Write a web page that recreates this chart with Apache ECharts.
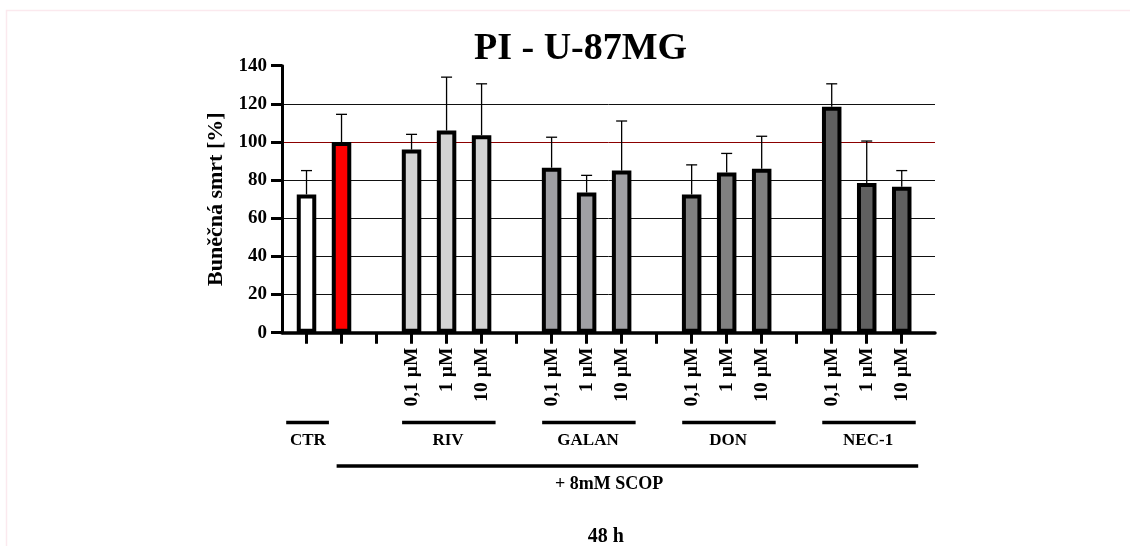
<!DOCTYPE html>
<html>
<head>
<meta charset="utf-8">
<script src="https://cdn.jsdelivr.net/npm/echarts@6/dist/echarts.min.js"></script>
<style>
  html, body { margin: 0; padding: 0; background: #fff; }
  #chart { width: 1130px; height: 546px; }
</style>
</head>
<body>
<div id="chart"></div>
<script>
// One slot per x tick; empty slots separate the treatment groups.
const slotLabels = ['', '', '',
  '0,1 µM', '1 µM', '10 µM', '',
  '0,1 µM', '1 µM', '10 µM', '',
  '0,1 µM', '1 µM', '10 µM', '',
  '0,1 µM', '1 µM', '10 µM'];

// Cell death [%] (mean) and upper error (SD) per slot
const means = [72.5, 100, null,
  96, 106, 103.5, null,
  86.5, 73.5, 85, null,
  72.5, 84, 86, null,
  118.5, 78.5, 76.5];
const errors = [12.5, 14.5, null,
  8, 28, 27, null,
  16, 9, 26, null,
  15.5, 10, 17, null,
  12, 22, 8.5];

// Fill colour per slot
const barColors = ['#ffffff', '#ff0000', null,
  '#d3d3d3', '#d3d3d3', '#d3d3d3', null,
  '#a0a0a4', '#a0a0a4', '#a0a0a4', null,
  '#808080', '#808080', '#808080', null,
  '#606060', '#606060', '#606060'];

// Group brackets under the axis: label, first slot, last slot
const groups = [
  { name: 'CTR', first: 0, last: 0 },
  { name: 'RIV', first: 3, last: 5 },
  { name: 'GALAN', first: 7, last: 9 },
  { name: 'DON', first: 11, last: 13 },
  { name: 'NEC-1', first: 15, last: 17 }
];
const scopGroup = { name: '+ 8mM SCOP', first: 1, last: 17 };
const timeLabel = '48 h';
const yTicks = [0, 20, 40, 60, 80, 100, 120, 140];

const FONT = '"Liberation Serif", "Times New Roman", serif';

const tickSlots = slotLabels.map((_, i) => i);
const labelSlots = tickSlots.filter(i => slotLabels[i] !== '');

const barData = [];
const errData = [];
means.forEach((m, i) => {
  if (m == null) return;
  barData.push({ value: [i, m], itemStyle: { color: barColors[i] } });
  errData.push([i, m, m + errors[i]]);
});

const chart = echarts.init(document.getElementById('chart'), null, { renderer: 'canvas' });

const option = {
  backgroundColor: '#ffffff',
  animation: false,
  title: {
    text: 'PI - U-87MG',
    left: 474,
    top: 30,
    padding: 0,
    textStyle: { fontFamily: FONT, fontWeight: 'bold', fontSize: 38, color: '#000' }
  },
  grid: { left: 282, right: 195, top: 65.7, bottom: 213.3, containLabel: false },
  xAxis: {
    type: 'value',
    min: -0.7,
    max: 17.95,
    splitLine: { show: false },
    axisLine: { show: true, onZero: false, lineStyle: { color: '#000', width: 3.5 } },
    axisTick: {
      show: true, customValues: tickSlots, length: 11,
      lineStyle: { color: '#000', width: 3 }
    },
    axisLabel: {
      show: true, customValues: labelSlots, rotate: 90, margin: 15,
      fontFamily: FONT, fontWeight: 'bold', fontSize: 19.5, color: '#000',
      formatter: v => slotLabels[Math.round(v)] || ''
    }
  },
  yAxis: {
    type: 'value',
    min: yTicks[0],
    max: yTicks[yTicks.length - 1],
    interval: 20,
    name: 'Buněčná smrt [%]',
    nameLocation: 'middle',
    nameGap: 55,
    nameTextStyle: { fontFamily: FONT, fontWeight: 'bold', fontSize: 22, color: '#000' },
    axisLine: { show: true, onZero: false, lineStyle: { color: '#000', width: 3 } },
    axisTick: { show: true, length: 11, lineStyle: { color: '#000', width: 3 } },
    axisLabel: { margin: 15, fontFamily: FONT, fontWeight: 'bold', fontSize: 19, color: '#000' },
    splitLine: {
      show: true,
      lineStyle: {
        width: 1,
        color: yTicks.map(t => t === 100 ? '#8b0000' : (t === 140 ? 'rgba(0,0,0,0)' : '#111'))
      }
    }
  },
  series: [
    {
      type: 'bar',
      data: barData,
      barWidth: 19.5,
      z: 3,
      itemStyle: { borderColor: '#000', borderWidth: 4 }
    },
    {
      type: 'custom',
      z: 2,
      data: errData,
      renderItem: function (params, api) {
        const x = api.value(0);
        const base = api.coord([x, api.value(1)]);
        const top = api.coord([x, api.value(2)]);
        const cap = 5.5;
        return {
          type: 'group',
          children: [
            { type: 'line', shape: { x1: base[0], y1: base[1], x2: top[0], y2: top[1] },
              style: { stroke: '#000', lineWidth: 1.3 } },
            { type: 'line', shape: { x1: top[0] - cap, y1: top[1], x2: top[0] + cap, y2: top[1] },
              style: { stroke: '#000', lineWidth: 1.3 } }
          ]
        };
      }
    }
  ]
};

chart.setOption(option);

// Brackets and captions below the category labels, placed from the x scale
const px = v => chart.convertToPixel({ xAxisIndex: 0 }, v);
const elements = [];
const bracketY = 422.5, captionY = 441, scopY = 466, scopTextY = 484.5, timeY = 537;

// faint frame around the figure
elements.push({
  type: 'rect', silent: true, z: 0,
  shape: { x: 6.5, y: 10.5, width: 1200, height: 600 },
  style: { fill: 'none', stroke: '#fbe9ee', lineWidth: 1.5 }
});

groups.forEach(g => {
  const single = g.first === g.last;
  const x1 = px(single ? g.first - 0.58 : g.first - 0.27);
  const x2 = px(single ? g.last + 0.64 : g.last + 0.4);
  elements.push({
    type: 'line', silent: true,
    shape: { x1: x1, y1: bracketY, x2: x2, y2: bracketY },
    style: { stroke: '#000', lineWidth: 3.5 }
  });
  elements.push({
    type: 'text', silent: true,
    x: px((g.first + g.last) / 2 + 0.04), y: captionY,
    style: { text: g.name, align: 'center', verticalAlign: 'middle',
      font: 'bold 17px ' + FONT, fill: '#000' }
  });
});

elements.push({
  type: 'line', silent: true,
  shape: { x1: px(scopGroup.first - 0.14), y1: scopY, x2: px(scopGroup.last + 0.47), y2: scopY },
  style: { stroke: '#000', lineWidth: 3.5 }
});
elements.push({
  type: 'text', silent: true,
  x: px(8.64), y: scopTextY,
  style: { text: scopGroup.name, align: 'center', verticalAlign: 'middle',
    font: 'bold 18px ' + FONT, fill: '#000' }
});
elements.push({
  type: 'text', silent: true,
  x: px(8.55), y: timeY,
  style: { text: timeLabel, align: 'center', verticalAlign: 'middle',
    font: 'bold 20px ' + FONT, fill: '#000' }
});

chart.setOption({ graphic: { elements: elements } });
</script>
</body>
</html>
